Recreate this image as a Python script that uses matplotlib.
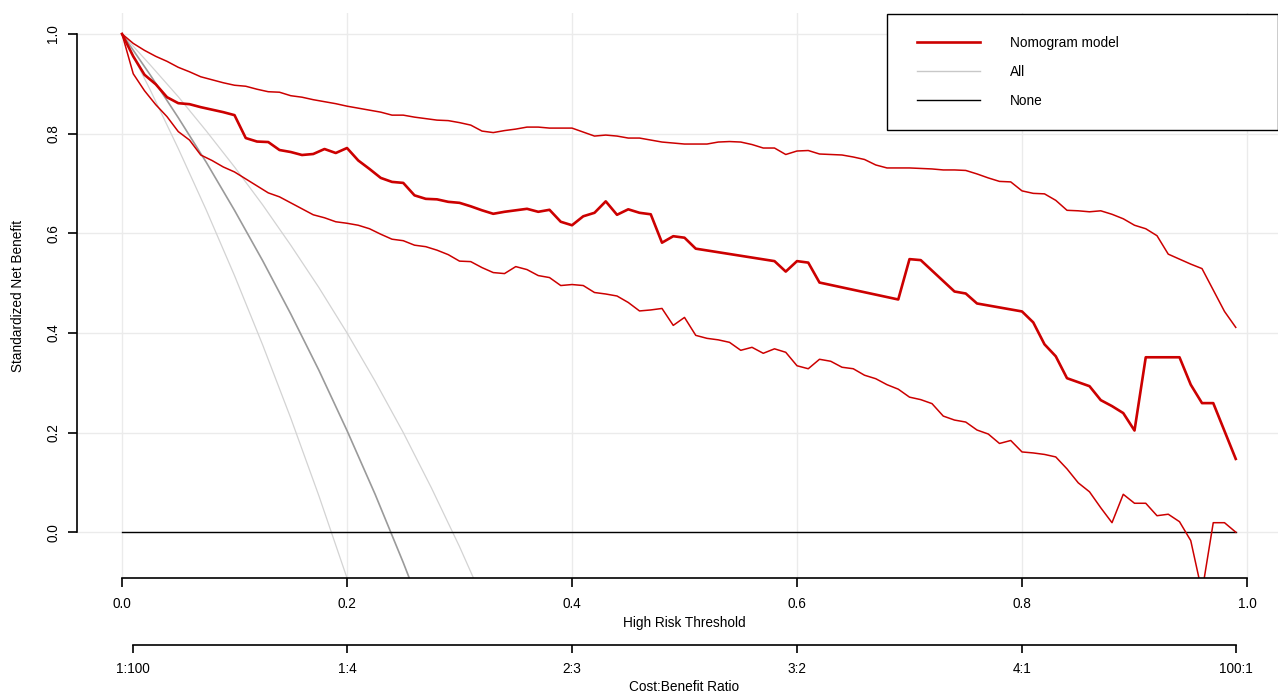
import numpy as np
import matplotlib
matplotlib.use("Agg")
import matplotlib.pyplot as plt
from matplotlib.lines import Line2D
from matplotlib.legend_handler import HandlerLine2D

plt.rcParams['font.family'] = ['Liberation Sans', 'DejaVu Sans']

# threshold grid (0.00 .. 0.99 by 0.01) for the CI curves
thr = np.round(np.arange(0, 1.0, 0.01), 2)

# nomogram model, standardized net benefit
mid_x = [0.00, 0.01, 0.02, 0.03, 0.04, 0.05, 0.06, 0.07, 0.08, 0.09,
         0.10, 0.11, 0.12, 0.13, 0.14, 0.15, 0.16, 0.17, 0.18, 0.19,
         0.20, 0.21, 0.22, 0.23, 0.24, 0.25, 0.26, 0.27, 0.28, 0.29,
         0.30, 0.31, 0.32, 0.33, 0.34, 0.35, 0.36, 0.37, 0.38, 0.39,
         0.40, 0.41, 0.42, 0.43, 0.44, 0.45, 0.46, 0.47, 0.48, 0.49,
         0.50, 0.51, 0.58, 0.59, 0.60, 0.61, 0.62, 0.69, 0.70, 0.71,
         0.74, 0.75, 0.76, 0.80, 0.81, 0.82, 0.83, 0.84, 0.85, 0.86,
         0.87, 0.88, 0.89, 0.90, 0.91, 0.94, 0.95, 0.96, 0.97, 0.99]
mid_y = [1.000, 0.955, 0.918, 0.899, 0.873, 0.861, 0.859, 0.853, 0.848, 0.843,
         0.837, 0.791, 0.784, 0.783, 0.767, 0.763, 0.757, 0.759, 0.769, 0.761,
         0.771, 0.746, 0.729, 0.711, 0.703, 0.701, 0.676, 0.669, 0.668, 0.663,
         0.661, 0.654, 0.646, 0.639, 0.643, 0.646, 0.649, 0.643, 0.647, 0.623,
         0.616, 0.634, 0.641, 0.664, 0.637, 0.648, 0.641, 0.638, 0.581, 0.594,
         0.591, 0.569, 0.544, 0.523, 0.544, 0.541, 0.501, 0.467, 0.548, 0.546,
         0.483, 0.479, 0.459, 0.443, 0.421, 0.377, 0.353, 0.309, 0.301, 0.293,
         0.265, 0.253, 0.239, 0.204, 0.351, 0.351, 0.296, 0.259, 0.259, 0.147]

upper_y = [1.000, 0.981, 0.967, 0.955, 0.945, 0.933, 0.924, 0.914, 0.908, 0.902,
           0.897, 0.895, 0.889, 0.884, 0.883, 0.876, 0.873, 0.868, 0.864, 0.860,
           0.855, 0.851, 0.847, 0.843, 0.837, 0.837, 0.833, 0.830, 0.827, 0.826,
           0.822, 0.817, 0.805, 0.802, 0.806, 0.809, 0.813, 0.813, 0.811, 0.811,
           0.811, 0.803, 0.795, 0.797, 0.795, 0.791, 0.791, 0.787, 0.783, 0.781,
           0.779, 0.779, 0.779, 0.783, 0.784, 0.783, 0.778, 0.771, 0.771, 0.758,
           0.765, 0.766, 0.759, 0.758, 0.757, 0.753, 0.748, 0.737, 0.731, 0.731,
           0.731, 0.730, 0.729, 0.727, 0.727, 0.726, 0.719, 0.711, 0.704, 0.703,
           0.685, 0.680, 0.679, 0.666, 0.646, 0.645, 0.643, 0.645, 0.638, 0.629,
           0.616, 0.609, 0.595, 0.558, 0.548, 0.538, 0.529, 0.486, 0.443, 0.411]

lower_y = [1.000, 0.920, 0.886, 0.858, 0.834, 0.804, 0.787, 0.757, 0.746, 0.733,
           0.723, 0.709, 0.695, 0.681, 0.673, 0.661, 0.649, 0.637, 0.631, 0.623,
           0.620, 0.616, 0.609, 0.598, 0.588, 0.585, 0.576, 0.573, 0.566, 0.557,
           0.544, 0.543, 0.531, 0.521, 0.519, 0.533, 0.527, 0.515, 0.511, 0.495,
           0.497, 0.495, 0.481, 0.478, 0.474, 0.461, 0.444, 0.446, 0.449, 0.415,
           0.431, 0.395, 0.389, 0.386, 0.381, 0.365, 0.371, 0.359, 0.368, 0.361,
           0.334, 0.328, 0.347, 0.343, 0.331, 0.328, 0.315, 0.308, 0.296, 0.287,
           0.271, 0.266, 0.258, 0.233, 0.225, 0.221, 0.205, 0.197, 0.178, 0.184,
           0.161, 0.159, 0.156, 0.151, 0.127, 0.099, 0.081, 0.049, 0.019, 0.076,
           0.058, 0.058, 0.033, 0.036, 0.021, -0.017, -0.120, 0.019, 0.019, 0.000]

# "All" strategy with its CI
all_mid_x = [0, 0.025, 0.05, 0.075, 0.10, 0.125, 0.15, 0.175, 0.20, 0.225, 0.25, 0.26]
all_mid_y = [1.0, 0.918, 0.832, 0.742, 0.646, 0.545, 0.438, 0.325, 0.204, 0.076, -0.061, -0.119]
all_hi_x = [0, 0.025, 0.05, 0.075, 0.10, 0.125, 0.15, 0.175, 0.20, 0.225, 0.25, 0.275, 0.30, 0.325]
all_hi_y = [1.0, 0.938, 0.874, 0.805, 0.733, 0.657, 0.576, 0.491, 0.400, 0.303, 0.200, 0.089, -0.029, -0.156]
all_lo_x = [0, 0.025, 0.05, 0.075, 0.10, 0.125, 0.15, 0.175, 0.20, 0.21]
all_lo_y = [1.0, 0.888, 0.770, 0.646, 0.515, 0.376, 0.229, 0.073, -0.092, -0.161]

# "None" strategy
none_x = [0.0, 0.99]
none_y = [0.0, 0.0]

x_ticks = [0.0, 0.2, 0.4, 0.6, 0.8, 1.0]
y_ticks = [0.0, 0.2, 0.4, 0.6, 0.8, 1.0]
cb_ticks = [0.01, 0.2, 0.4, 0.6, 0.8, 0.99]
cb_labels = ['1:100', '1:4', '2:3', '3:2', '4:1', '100:1']
legend_labels = ['Nomogram model', 'All', 'None']

RED = '#CC0000'
FS = 9.8
W, H = 1278, 694

fig = plt.figure(figsize=(W / 100, H / 100), dpi=100)
ax = fig.add_axes([77 / W, (H - 578) / H, (1292 - 77) / W, (578 - 13) / H])
ax.set_xlim(-0.04, 1.04)
ax.set_ylim(-0.092, 1.042)

# grid
ax.set_xticks(x_ticks)
ax.set_yticks(y_ticks)
ax.set_xticklabels([f'{v:.1f}' for v in x_ticks])
ax.set_yticklabels([f'{v:.1f}' for v in y_ticks])
ax.grid(True, color='#EBEBEB', lw=1.0)
ax.set_axisbelow(True)

# All
ax.plot(all_lo_x, all_lo_y, color='#D3D3D3', lw=0.9)
ax.plot(all_hi_x, all_hi_y, color='#D3D3D3', lw=0.9)
ax.plot(all_mid_x, all_mid_y, color='#9A9A9A', lw=1.2)
# None
ax.plot(none_x, none_y, color='black', lw=1.0)
# model
ax.plot(thr, lower_y, color=RED, lw=1.1)
ax.plot(thr, upper_y, color=RED, lw=1.1)
ax.plot(mid_x, mid_y, color=RED, lw=1.9)

for s in ['top', 'right']:
    ax.spines[s].set_visible(False)
ax.spines['left'].set_bounds(0, 1)
ax.spines['bottom'].set_bounds(0, 1)
ax.spines['left'].set_linewidth(1.2)
ax.spines['bottom'].set_linewidth(1.2)
ax.tick_params(axis='both', length=6.5, width=1.2, labelsize=FS, color='black')
ax.tick_params(axis='x', pad=7)
ax.tick_params(axis='y', pad=5.4, labelrotation=90)
for t in ax.get_yticklabels():
    t.set_verticalalignment('center')

# cost:benefit axis
ax2 = fig.add_axes([77 / W, (H - 645) / H, (1292 - 77) / W, 0.0001])
ax2.set_xlim(-0.04, 1.04)
ax2.patch.set_visible(False)
ax2.yaxis.set_visible(False)
for s in ['top', 'right', 'left']:
    ax2.spines[s].set_visible(False)
ax2.spines['bottom'].set_bounds(0.01, 0.99)
ax2.spines['bottom'].set_linewidth(1.2)
ax2.set_xticks(cb_ticks)
ax2.set_xticklabels(cb_labels)
ax2.tick_params(axis='x', length=5.5, width=1.2, labelsize=FS, pad=7)

fig.text(684 / W, (H - 623) / H, 'High Risk Threshold', ha='center', va='center', fontsize=FS)
fig.text(684 / W, (H - 687) / H, 'Cost:Benefit Ratio', ha='center', va='center', fontsize=FS)
fig.text(18 / W, (H - 296) / H, 'Standardized Net Benefit', ha='center', va='center',
         rotation=90, fontsize=FS)

handles = [Line2D([], [], color=RED, lw=1.9),
           Line2D([], [], color='#C8C8C8', lw=1.0),
           Line2D([], [], color='black', lw=1.0)]
leg = ax.legend(handles, legend_labels, loc='upper left',
                bbox_to_anchor=(887 / W, (H - 14) / H, (1277.5 - 887) / W, 0),
                bbox_transform=fig.transFigure, mode='expand', borderaxespad=0,
                fontsize=FS, frameon=True, fancybox=False, framealpha=1,
                edgecolor='black', borderpad=1.6, handlelength=5.2,
                handletextpad=2.2, labelspacing=1.1,
                handler_map={Line2D: HandlerLine2D(xpad=0.59)})
leg.get_frame().set_linewidth(1.0)

fig.savefig('out.png', dpi=100)
